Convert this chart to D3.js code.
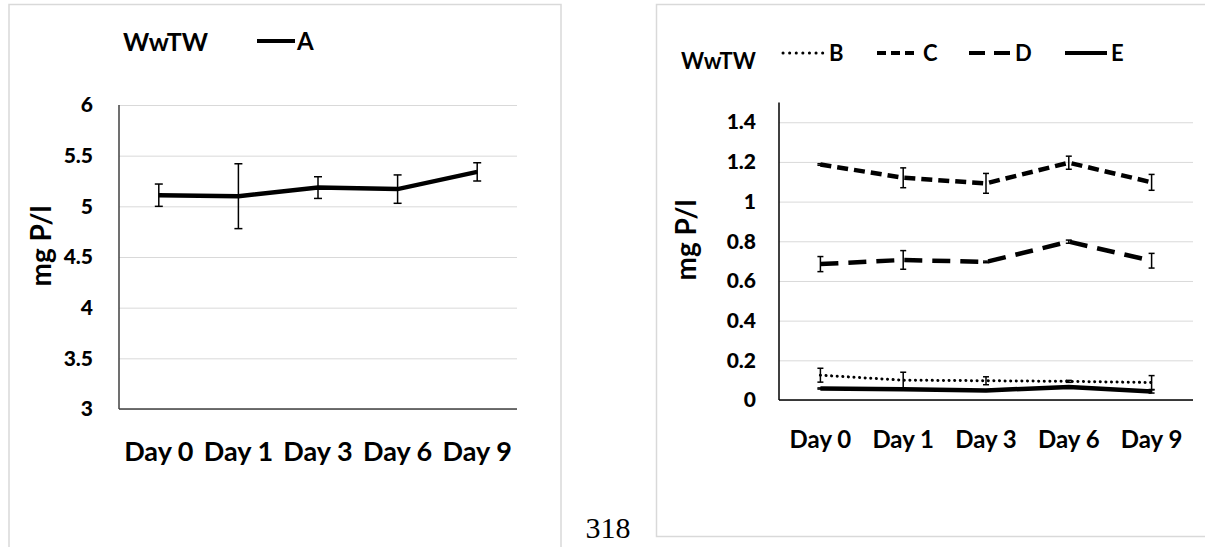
<!DOCTYPE html>
<html lang="en">
<head>
<meta charset="UTF-8">
<title>WwTW mg P/l</title>
<script src="https://cdn.jsdelivr.net/npm/d3@7"></script>
<style>
    body {margin: 0; background: #fff;}
    text {font-family: Lato, "Liberation Sans", Arial, sans-serif; font-weight: bold; fill: #000;}
</style>
</head>
<body>
<script>
    // categories and values
    var days = ["Day 0", "Day 1", "Day 3", "Day 6", "Day 9"];
    var ticksA = [3, 3.5, 4, 4.5, 5, 5.5, 6];
    var ticksB = [0, 0.2, 0.4, 0.6, 0.8, 1, 1.2, 1.4];

    var aVals = [5.11, 5.10, 5.185, 5.17, 5.34];
    var aErr = [0.11, 0.32, 0.107, 0.14, 0.09];

    var bVals = [0.125, 0.10, 0.097, 0.094, 0.088];
    var bErr = [0.035, 0.04, 0.02, 0.005, 0.035];
    var cVals = [1.187, 1.12, 1.092, 1.196, 1.097];
    var cErr = [0.004, 0.05, 0.05, 0.033, 0.04];
    var dVals = [0.685, 0.706, 0.696, 0.798, 0.702];
    var dErr = [0.038, 0.047, 0.004, 0.008, 0.037];
    var eVals = [0.058, 0.054, 0.048, 0.066, 0.043];
    var eErr = [0.003, 0.003, 0.003, 0.003, 0.008];

    var svg = d3.select("body").append("svg").attr("width", 1205).attr("height", 547);
    svg.append("rect").attr("width", 1205).attr("height", 547).attr("fill", "#fff");

    // page frames
    svg.append("rect").attr("x", 9).attr("y", 4.5).attr("width", 552).attr("height", 560)
        .attr("fill", "none").attr("stroke", "#d9d9d9").attr("stroke-width", 1.5);
    svg.append("rect").attr("x", 656.5).attr("y", 4.5).attr("width", 580).attr("height", 532)
        .attr("fill", "none").attr("stroke", "#d9d9d9").attr("stroke-width", 1.5);
    svg.append("text").attr("x", 608).attr("y", 538).attr("text-anchor", "middle")
        .style("font-family", "'Liberation Serif', 'Times New Roman', serif").style("font-weight", "normal")
        .style("font-size", "30px").text("318");

    var fmt = function (d) { return String(+d.toFixed(1)); };

    function drawPanel(p) {
        var g = svg.append("g");
        var x = d3.scaleBand().domain(days).range([p.left, p.right]);
        var y = d3.scaleLinear().domain(p.domain).range([p.bottom, p.top]);
        var cx = function (i) { return x(days[i]) + x.bandwidth() / 2; };

        var ax = g.append("g").attr("transform", "translate(" + p.left + ",0)")
            .call(d3.axisLeft(y).tickValues(p.ticks).tickSize(-(p.right - p.left)).tickPadding(p.pad).tickFormat(fmt));
        ax.select(".domain").remove();
        ax.selectAll("line").attr("stroke", "#d9d9d9").attr("stroke-width", 1);
        ax.selectAll("text").attr("fill", "#000").style("font-size", "21px").style("font-weight", "900")
            .style("font-family", "Lato, 'Liberation Sans', Arial, sans-serif");

        g.append("line").attr("x1", p.left).attr("x2", p.left).attr("y1", y(p.domain[1])).attr("y2", y(p.domain[0]))
            .attr("stroke", p.axisColor).attr("stroke-width", 1.5);
        g.append("line").attr("x1", p.left).attr("x2", p.right).attr("y1", y(p.domain[0])).attr("y2", y(p.domain[0]))
            .attr("stroke", p.axisColor).attr("stroke-width", 1.5);

        g.selectAll(".day").data(days).enter().append("text")
            .attr("x", function (d) { return x(d) + x.bandwidth() / 2; })
            .attr("y", p.dayY).attr("text-anchor", "middle").style("font-size", p.daySize + "px")
            .text(function (d) { return d; });

        g.append("text").attr("transform", "translate(" + p.labelX + "," + p.labelY + ") rotate(-90)")
            .attr("text-anchor", "middle").style("font-size", "28px").text("mg P/l");

        p.series.forEach(function (s) {
            var line = d3.line().x(function (d, i) { return cx(i); }).y(function (d) { return y(d); });
            g.append("path").datum(s.vals).attr("d", line).attr("fill", "none").attr("stroke", "#000")
                .attr("stroke-width", s.width).attr("stroke-dasharray", s.dash).attr("stroke-linecap", s.cap);
            s.err.forEach(function (e, i) {
                var y1 = y(s.vals[i] - e), y2 = y(s.vals[i] + e);
                g.append("line").attr("x1", cx(i)).attr("x2", cx(i)).attr("y1", y1).attr("y2", y2)
                    .attr("stroke", "#000").attr("stroke-width", 1.5);
                [y1, y2].forEach(function (yy) {
                    g.append("line").attr("x1", cx(i) - p.cap).attr("x2", cx(i) + p.cap).attr("y1", yy).attr("y2", yy)
                        .attr("stroke", "#000").attr("stroke-width", 1.5);
                });
            });
        });
    }

    drawPanel({
        left: 119, right: 517, top: 105, bottom: 409, domain: [3, 6], ticks: ticksA, pad: 26,
        axisColor: "#404040", dayY: 461, daySize: 27, labelX: 51, labelY: 246, cap: 4,
        series: [{vals: aVals, err: aErr, width: 4.5, dash: null, cap: "butt"}]
    });

    drawPanel({
        left: 779, right: 1193, top: 102.4, bottom: 400, domain: [0, 1.5], ticks: ticksB, pad: 23,
        axisColor: "#000", dayY: 448, daySize: 24, labelX: 696, labelY: 240, cap: 3,
        series: [
            {vals: bVals, err: bErr, width: 3, dash: "0.1 5.5", cap: "round"},
            {vals: cVals, err: cErr, width: 4.5, dash: "11 6", cap: "butt"},
            {vals: dVals, err: dErr, width: 4.5, dash: "18 10", cap: "butt"},
            {vals: eVals, err: eErr, width: 4.5, dash: null, cap: "butt"}
        ]
    });

    // legends
    svg.append("text").attr("x", 123).attr("y", 51).style("font-size", "25px").text("WwTW");
    svg.append("line").attr("x1", 257).attr("x2", 295).attr("y1", 41).attr("y2", 41).attr("stroke", "#000").attr("stroke-width", 4);
    svg.append("text").attr("x", 297).attr("y", 50).style("font-size", "24px").text("A");

    var legNames = ["B", "C", "D", "E"];
    var legX = [783, 877, 969, 1065];
    var legDash = ["0.1 6.5", "9 5", "16 9", null];
    var legW = [3, 4, 4, 4];
    svg.append("text").attr("x", 681).attr("y", 69).style("font-size", "22px").text("WwTW");
    legNames.forEach(function (n, i) {
        svg.append("line").attr("x1", legX[i]).attr("x2", legX[i] + 42).attr("y1", 53).attr("y2", 53)
            .attr("stroke", "#000").attr("stroke-width", legW[i]).attr("stroke-dasharray", legDash[i])
            .attr("stroke-linecap", i == 0 ? "round" : "butt");
        svg.append("text").attr("x", legX[i] + 46).attr("y", 60.5).style("font-size", "22px").text(n);
    });
</script>
</body>
</html>
